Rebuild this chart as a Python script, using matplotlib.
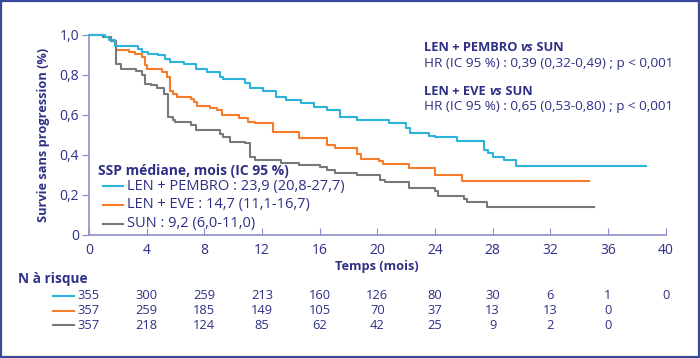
import matplotlib
matplotlib.use('Agg')
import matplotlib.pyplot as plt
from matplotlib.patches import Rectangle

# Courbes de survie sans progression
# (temps de chaque marche en mois, survie après la marche)
pembro_t = [0, 1.1, 1.4, 1.8, 3.4, 3.7, 4.1, 4.8, 5.3, 5.6, 6.6, 7.4, 8.2, 9.1, 9.3,
            10.8, 11.2, 12.1, 13.0, 13.7, 14.7, 15.6, 16.5, 17.4, 18.6, 20.8, 22.0,
            22.3, 23.6, 24.0, 25.5, 27.4, 27.7, 28.0, 28.8, 29.6]
pembro_s = [1.0, 0.987, 0.974, 0.942, 0.929, 0.913, 0.905, 0.896, 0.88, 0.863, 0.855,
            0.83, 0.813, 0.79, 0.78, 0.76, 0.732, 0.716, 0.69, 0.674, 0.657, 0.64,
            0.624, 0.59, 0.572, 0.557, 0.532, 0.507, 0.494, 0.487, 0.47, 0.424, 0.407,
            0.39, 0.374, 0.346]
pembro_fin = 38.6

eve_t = [0, 1.0, 1.5, 1.9, 2.8, 3.2, 3.7, 3.9, 4.0, 5.1, 5.4, 5.6, 5.8, 6.1, 7.1, 7.3,
         7.5, 8.4, 8.9, 9.2, 10.4, 11.0, 11.5, 12.8, 14.6, 16.5, 17.1, 18.6, 18.9,
         20.1, 20.4, 22.2, 24.0, 25.9]
eve_s = [1.0, 0.987, 0.97, 0.924, 0.913, 0.905, 0.888, 0.846, 0.83, 0.813, 0.79, 0.72,
         0.705, 0.688, 0.68, 0.664, 0.642, 0.634, 0.622, 0.598, 0.582, 0.565, 0.557,
         0.515, 0.482, 0.449, 0.432, 0.403, 0.38, 0.37, 0.355, 0.334, 0.3, 0.268]
eve_fin = 34.7

sun_t = [0, 1.0, 1.5, 1.9, 2.2, 3.3, 3.7, 3.9, 4.3, 4.7, 5.2, 5.5, 5.8, 6.0, 7.1, 7.4,
         9.1, 9.3, 9.8, 10.8, 11.2, 11.5, 13.3, 14.6, 16.0, 16.5, 17.1, 18.6, 20.2,
         20.5, 22.2, 24.0, 24.2, 26.0, 26.2, 27.6]
sun_s = [1.0, 0.987, 0.97, 0.855, 0.83, 0.82, 0.797, 0.755, 0.747, 0.735, 0.705, 0.589,
         0.572, 0.564, 0.547, 0.522, 0.505, 0.49, 0.466, 0.457, 0.391, 0.374, 0.357,
         0.349, 0.34, 0.324, 0.307, 0.299, 0.276, 0.262, 0.234, 0.217, 0.192, 0.178,
         0.167, 0.142]
sun_fin = 35.0

# Légende et annotations
legende_titre = "SSP médiane, mois (IC 95 %)"
legende_noms = ["LEN + PEMBRO : 23,9 (20,8-27,7)",
                "LEN + EVE : 14,7 (11,1-16,7)",
                "SUN : 9,2 (6,0-11,0)"]
hr_pembro = "HR (IC 95 %) : 0,39 (0,32-0,49) ; p < 0,001"
hr_eve = "HR (IC 95 %) : 0,65 (0,53-0,80) ; p < 0,001"

# Axes
x_ticks = [0, 4, 8, 12, 16, 20, 24, 28, 32, 36, 40]
y_ticks = [0, 0.2, 0.4, 0.6, 0.8, 1.0]
y_labels = ["0", "0,2", "0,4", "0,6", "0,8", "1,0"]

# Nombre de patients à risque
risk_pembro = [355, 300, 259, 213, 160, 126, 80, 30, 6, 1, 0]
risk_eve = [357, 259, 185, 149, 105, 70, 37, 13, 13, 0]
risk_sun = [357, 218, 124, 85, 62, 42, 25, 9, 2, 0]

navy = '#2e3085'
axe_col = '#8c8fc9'
cyan = '#2bb3da'
orange = '#f47c2a'
gris = '#77787b'

plt.rcParams['font.family'] = ['Open Sans', 'DejaVu Sans']
plt.rcParams['font.size'] = 10

fig = plt.figure(figsize=(7, 3.58), dpi=100)
ax = fig.add_axes([0.127, 0.3436, 0.824, 0.56])

series = [(pembro_t, pembro_s, pembro_fin, cyan),
          (eve_t, eve_s, eve_fin, orange),
          (sun_t, sun_s, sun_fin, gris)]
for t, s, fin, c in series:
    ax.step(t + [fin], s + [s[-1]], where='post', color=c, lw=1.5, clip_on=False,
            zorder=3 if c == cyan else 2)

ax.set_xlim(0, 40)
ax.set_ylim(0, 1.0)
ax.set_xticks(x_ticks)
ax.set_yticks(y_ticks)
ax.set_yticklabels(y_labels)
for sp in ['top', 'right']:
    ax.spines[sp].set_visible(False)
for sp in ['left', 'bottom']:
    ax.spines[sp].set_color(axe_col)
    ax.spines[sp].set_linewidth(1.2)
ax.tick_params(axis='x', direction='in', length=5, color=axe_col, labelcolor=navy,
               pad=6, labelsize=10)
ax.tick_params(axis='y', direction='out', length=5, color=axe_col, labelcolor=navy,
               pad=2, labelsize=10)

ax.set_xlabel("Temps (mois)", color=navy, fontweight='bold', fontsize=9.2, labelpad=1)
ax.set_ylabel("Survie sans progression (%)", color=navy, fontweight='bold', fontsize=9.2,
              labelpad=7)

# légende manuelle
ax.text(0.0156, 0.321, legende_titre, transform=ax.transAxes, color=navy,
        fontweight='bold', fontsize=10, va='center')
for y, nom, c in zip([0.244, 0.150, 0.055], legende_noms, [cyan, orange, gris]):
    ax.plot([0.0243, 0.0589], [y, y], transform=ax.transAxes, color=c, lw=1.5)
    ax.text(0.0653, y, nom, transform=ax.transAxes, color=navy, fontsize=10.5,
            va='center')

# rapports de risque
for y, bras, hr in [(0.933, "LEN + PEMBRO ", hr_pembro), (0.718, "LEN + EVE ", hr_eve)]:
    t1 = ax.text(0.5806, y, bras, transform=ax.transAxes, color=navy,
                 fontweight='bold', fontsize=9.3, va='center')
    t2 = ax.annotate("vs", xy=(1, 0), xycoords=t1, va='bottom', color=navy,
                     fontweight='bold', fontstyle='italic', fontsize=9.3)
    ax.annotate(" SUN", xy=(1, 0), xycoords=t2, va='bottom', color=navy,
                fontweight='bold', fontsize=9.3)
    ax.text(0.5806, y - 0.078, hr, transform=ax.transAxes, color=navy,
            fontsize=9.7, va='center')

# tableau des patients à risque
tr = ax.get_xaxis_transform()
fig.text(18 / 700, 1 - 279 / 358, "N à risque", color=navy, fontweight='bold',
         fontsize=9.8, va='center')
for y, risk, c in [(-0.303, risk_pembro, cyan), (-0.377, risk_eve, orange),
                   (-0.451, risk_sun, gris)]:
    ax.plot([-2.5, -1.05], [y, y], transform=tr, color=c, lw=1.5, clip_on=False)
    for xt, n in zip(x_ticks, risk):
        ax.text(xt, y, str(n), transform=tr, color=navy, fontsize=9.3,
                ha='center', va='center')

# cadre
fig.patches.append(Rectangle((0.0015, 0.002), 0.997, 0.996, transform=fig.transFigure,
                             fill=False, edgecolor='#3a4a9a', lw=1.6))

fig.savefig('out.png', dpi=100)
